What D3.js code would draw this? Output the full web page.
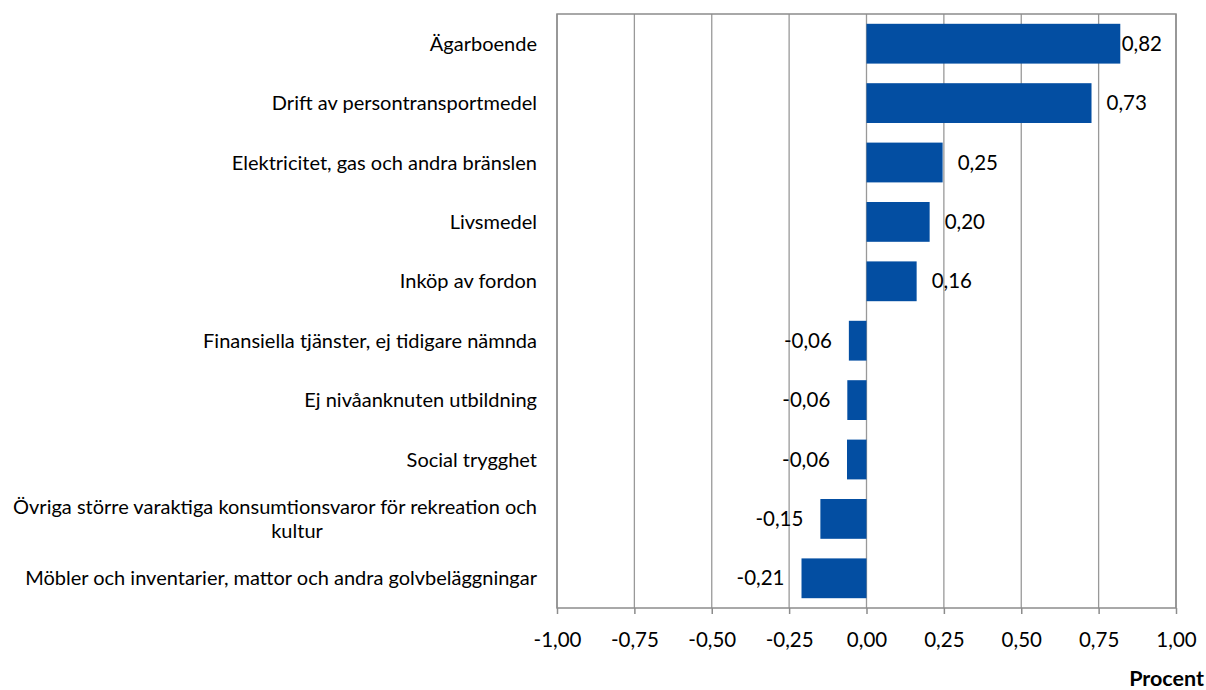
<!DOCTYPE html>
<html>
<head>
<meta charset="utf-8">
<script src="https://cdn.jsdelivr.net/npm/d3@7"></script>
<style>
  body { margin: 0; background: #fff; }
  svg { font-family: Lato, "Open Sans", sans-serif; }
</style>
</head>
<body>
<div id="chart"></div>
<script>
// categories and values
const categories = [
    "Ägarboende",
    "Drift av persontransportmedel",
    "Elektricitet, gas och andra bränslen",
    "Livsmedel",
    "Inköp av fordon",
    "Finansiella tjänster, ej tidigare nämnda",
    "Ej nivåanknuten utbildning",
    "Social trygghet",
    "Övriga större varaktiga konsumtionsvaror för rekreation och kultur",
    "Möbler och inventarier, mattor och andra golvbeläggningar"
];
const values = [0.82, 0.727, 0.246, 0.204, 0.162, -0.057, -0.062, -0.063, -0.149, -0.21];
const ticks = [-1, -0.75, -0.5, -0.25, 0, 0.25, 0.5, 0.75, 1];
const axisTitle = "Procent";

const W = 1206, H = 690;
const margin = { top: 14, right: 30, bottom: 82, left: 557 };
const width = W - margin.left - margin.right;
const height = H - margin.top - margin.bottom;

const fmt = v => d3.format(".2f")(v).replace(".", ",").replace("−", "-");

const svg = d3.select("#chart").append("svg")
    .attr("width", W)
    .attr("height", H);

const g = svg.append("g").attr("transform", `translate(${margin.left},${margin.top})`);

const x = d3.scaleLinear().domain([-1, 1]).range([0, width]);
const y = d3.scaleBand().domain(d3.range(categories.length)).range([0, height]).paddingInner(0.33).paddingOuter(0.165);
const band = d3.scaleBand().domain(d3.range(categories.length)).range([0, height]);

// gridlines
g.append("g")
    .selectAll("line")
    .data(ticks)
    .join("line")
    .attr("x1", d => x(d)).attr("x2", d => x(d))
    .attr("y1", 0).attr("y2", height)
    .attr("stroke", "#999")
    .attr("stroke-width", 1.3);

// bars
g.append("g")
    .selectAll("rect")
    .data(values)
    .join("rect")
    .attr("x", d => x(Math.min(0, d)))
    .attr("width", d => Math.abs(x(d) - x(0)))
    .attr("y", (d, i) => y(i))
    .attr("height", y.bandwidth())
    .attr("fill", "#034ea2");

// frame
g.append("rect")
    .attr("width", width).attr("height", height)
    .attr("fill", "none")
    .attr("stroke", "#8c8c8c")
    .attr("stroke-width", 1.5);

// x axis
const axis = g.append("g")
    .attr("transform", `translate(0,${height})`)
    .call(d3.axisBottom(x).tickValues(ticks).tickSize(6).tickPadding(18).tickFormat(fmt));
axis.select(".domain").remove();
axis.selectAll(".tick line").attr("stroke", "#8c8c8c").attr("stroke-width", 1.5);
axis.selectAll(".tick text").attr("font-size", 20.5).attr("fill", "#000").attr("font-family", "Lato, sans-serif");

// value labels
const labels = g.append("g")
    .selectAll("text")
    .data(values)
    .join("text")
    .attr("y", (d, i) => y(i) + y.bandwidth() / 2)
    .attr("dy", "0.35em")
    .attr("font-size", 20.5)
    .attr("text-anchor", d => d < 0 ? "end" : "start")
    .text(fmt);
labels.each(function (d) {
    const t = d3.select(this);
    if (d < 0) {
        t.attr("x", x(d) - 17);
    } else {
        const w = this.getComputedTextLength();
        t.attr("x", Math.min(x(d) + 15, width - 14 - w));
    }
});

// category labels
const catRight = -20;
const cat = g.append("g")
    .attr("font-size", 20)
    .attr("text-anchor", "end");
categories.forEach((c, i) => {
    const cy = band(i) + band.bandwidth() / 2;
    if (c.length > 60) {
        const first = "Övriga större varaktiga konsumtionsvaror för rekreation och";
        cat.append("text").attr("x", catRight).attr("y", cy - 12).attr("dy", "0.35em").text(first);
        cat.append("text").attr("x", catRight - 240).attr("y", cy + 12).attr("dy", "0.35em")
            .attr("text-anchor", "middle").text(c.slice(first.length + 1));
    } else {
        cat.append("text").attr("x", catRight).attr("y", cy).attr("dy", "0.35em").text(c);
    }
});

// axis title
svg.append("text")
    .attr("x", W - 2)
    .attr("y", H - 4)
    .attr("text-anchor", "end")
    .attr("font-size", 21.5)
    .attr("font-weight", "bold")
    .text(axisTitle);
</script>
</body>
</html>
